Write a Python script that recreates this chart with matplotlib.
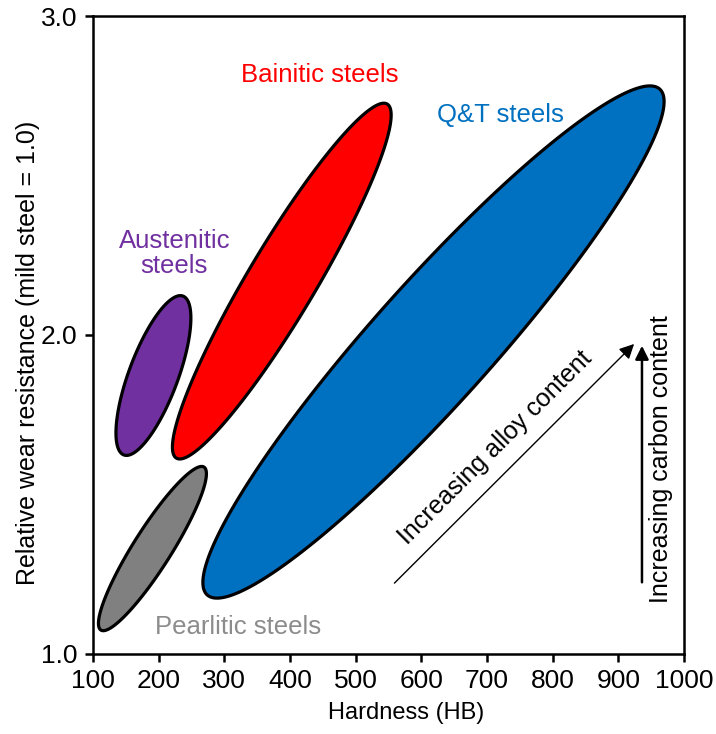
import numpy as np
import matplotlib
matplotlib.use("Agg")
from matplotlib import pyplot as plt

plt.rcParams['font.family'] = ['Liberation Sans', 'DejaVu Sans']

# steel families: ends of the long axis (hardness HB, relative wear resistance)
steels = ['Pearlitic', 'Austenitic', 'Bainitic', 'Q&T']
hb_low = [112, 147, 227, 274]
hb_high = [269, 237, 548, 963]
wear_low = [1.075, 1.624, 1.614, 1.185]
wear_high = [1.586, 2.122, 2.724, 2.771]
width_ratio = [0.197, 0.29, 0.165, 0.177]
fill_colors = ['#808080', '#7030A0', '#FF0000', '#0070C0']

x_ticks = [100, 200, 300, 400, 500, 600, 700, 800, 900, 1000]
y_ticks = [1.0, 2.0, 3.0]

fig = plt.figure(figsize=(7.16, 7.34), dpi=100)
ax = fig.add_axes([0.1299, 0.109, 0.8254, 0.8692])
ax.set_xlim(100, 1000)
ax.set_ylim(1.0, 3.0)


def draw_ellipse(x0, y0, x1, y1, ratio, color):
    # build the ellipse in screen space so it stays a true ellipse on the page
    p0, p1 = ax.transData.transform([(x0, y0), (x1, y1)])
    c = (p0 + p1) / 2
    u = (p1 - p0) / 2
    v = np.array([-u[1], u[0]]) * ratio
    t = np.linspace(0, 2 * np.pi, 300)
    pts = c + np.outer(np.cos(t), u) + np.outer(np.sin(t), v)
    d = ax.transData.inverted().transform(pts)
    ax.fill(d[:, 0], d[:, 1], facecolor=color, edgecolor='black', lw=2.3, zorder=2)


for i in range(len(steels)):
    draw_ellipse(hb_low[i], wear_low[i], hb_high[i], wear_high[i], width_ratio[i], fill_colors[i])

fs = 18.5
ax.text(446, 2.815, 'Bainitic steels', color='#FF0000', fontsize=fs, ha='center', va='center')
ax.text(721, 2.690, 'Q&T steels', color='#0070C0', fontsize=fs, ha='center', va='center')
ax.text(224, 2.254, 'Austenitic\nsteels', color='#7030A0', fontsize=fs, ha='center', va='center',
        linespacing=1.05)
ax.text(321, 1.085, 'Pearlitic steels', color='#8C8C8C', fontsize=fs, ha='center', va='center')

ax.annotate('', xy=(927, 1.978), xytext=(556, 1.216),
            arrowprops=dict(arrowstyle='-|>', lw=1.0, color='black', mutation_scale=22))
ax.annotate('', xy=(936, 1.975), xytext=(936, 1.216),
            arrowprops=dict(arrowstyle='-|>', lw=1.8, color='black', mutation_scale=20))
ax.text(712, 1.646, 'Increasing alloy content', fontsize=18, rotation=45,
        ha='center', va='center', rotation_mode='anchor')
ax.text(965, 1.611, 'Increasing carbon content', fontsize=18, rotation=90,
        ha='center', va='center')

ax.set_xticks(x_ticks)
ax.set_yticks(y_ticks)
ax.set_yticklabels(['%.1f' % v for v in y_ticks])
ax.tick_params(labelsize=19, width=1.8, length=6, direction='out', pad=5)
for s in ax.spines.values():
    s.set_linewidth(1.8)

ax.set_xlabel('Hardness (HB)', fontsize=17)
ax.set_ylabel('Relative wear resistance (mild steel = 1.0)', fontsize=18)
ax.xaxis.set_label_coords(0.53, -0.075)
ax.yaxis.set_label_coords(-0.09, 0.472)

fig.savefig('out.png', dpi=100)
